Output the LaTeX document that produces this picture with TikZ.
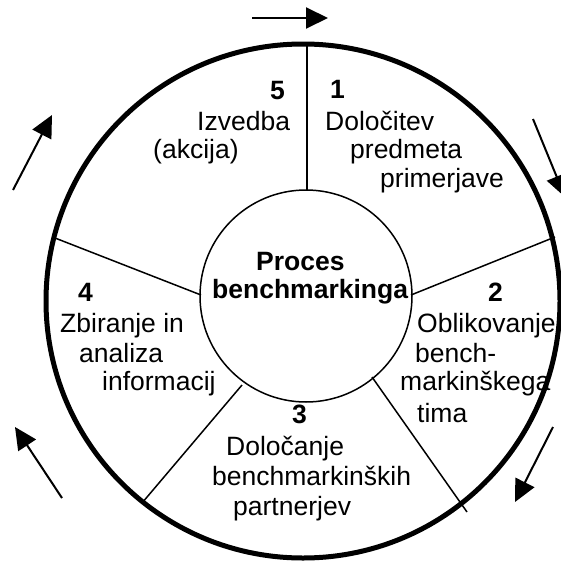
\documentclass[tikz,border=0pt]{standalone}
\usepackage{fontspec}
\setmainfont{Liberation Sans}
\usetikzlibrary{arrows.meta}

\begin{document}
\begin{tikzpicture}[x=1pt,y=-1pt,
  txt/.style={anchor=base west,inner sep=0pt,font=\fontsize{26.5}{30}\selectfont},
  num/.style={txt,font=\fontsize{26.5}{30}\selectfont\bfseries},
  divider/.style={line width=1.5pt},
  flow/.style={line width=2pt,-{Triangle[length=22pt,width=21pt]}}]
\useasboundingbox (0,0) rectangle (561,562);
% rings
\node[circle,draw,line width=5pt,minimum size=514pt,inner sep=0pt] (outer) at (303,301) {};
\node[circle,draw,line width=1.5pt,minimum size=212pt,inner sep=0pt] (inner) at (306,296) {};
% dividers between the steps
\coordinate (a1) at (307,190);  \coordinate (b1) at (307,44);
\coordinate (a2) at (411,295);  \coordinate (b2) at (555,237);
\coordinate (a3) at (372,377);  \coordinate (b3) at (467,512);
\coordinate (a4) at (242,385);  \coordinate (b4) at (142,503);
\coordinate (a5) at (201,295);  \coordinate (b5) at (55,238);
\foreach \i in {1,...,5}
  \draw[divider] (a\i) -- (b\i);
% direction arrows
\draw[flow] (252,18) -- (328,18);
\draw[flow] (533,119) -- (565,197);
\draw[flow] (553,427) -- (515,502);
\draw[flow] (62,498) -- (15,427);
\draw[flow] (13,190) -- (52,115);
% centre
\node[num] (c1) at (256,270) {Proces};
\node[num] (c2) at (212,298) {benchmarkinga};
% step 1
\node[num] (n1) at (330,98) {1};
\node[txt] (t1a) at (325,130) {Določitev};
\node[txt] (t1b) at (350,158) {predmeta};
\node[txt] (t1c) at (380,187) {primerjave};
% step 2
\node[num] (n2) at (488,301) {2};
\node[txt] (t2a) at (417,332) {Oblikovanje};
\node[txt] (t2b) at (415,362) {bench-};
\node[txt] (t2c) at (400,390) {markinškega};
\node[txt] (t2d) at (417,422) {tima};
% step 3
\node[num] (n3) at (292,423) {3};
\node[txt] (t3a) at (226,455) {Določanje};
\node[txt] (t3b) at (212,485) {benchmarkinških};
\node[txt] (t3c) at (233,515) {partnerjev};
% step 4
\node[num] (n4) at (78,301) {4};
\node[txt] (t4a) at (60,332) {Zbiranje in};
\node[txt] (t4b) at (79,362) {analiza};
\node[txt] (t4c) at (102,390) {informacij};
% step 5
\node[num] (n5) at (270,99) {5};
\node[txt] (t5a) at (197,130) {Izvedba};
\node[txt] (t5b) at (153,158) {(akcija)};
\end{tikzpicture}
\end{document}
